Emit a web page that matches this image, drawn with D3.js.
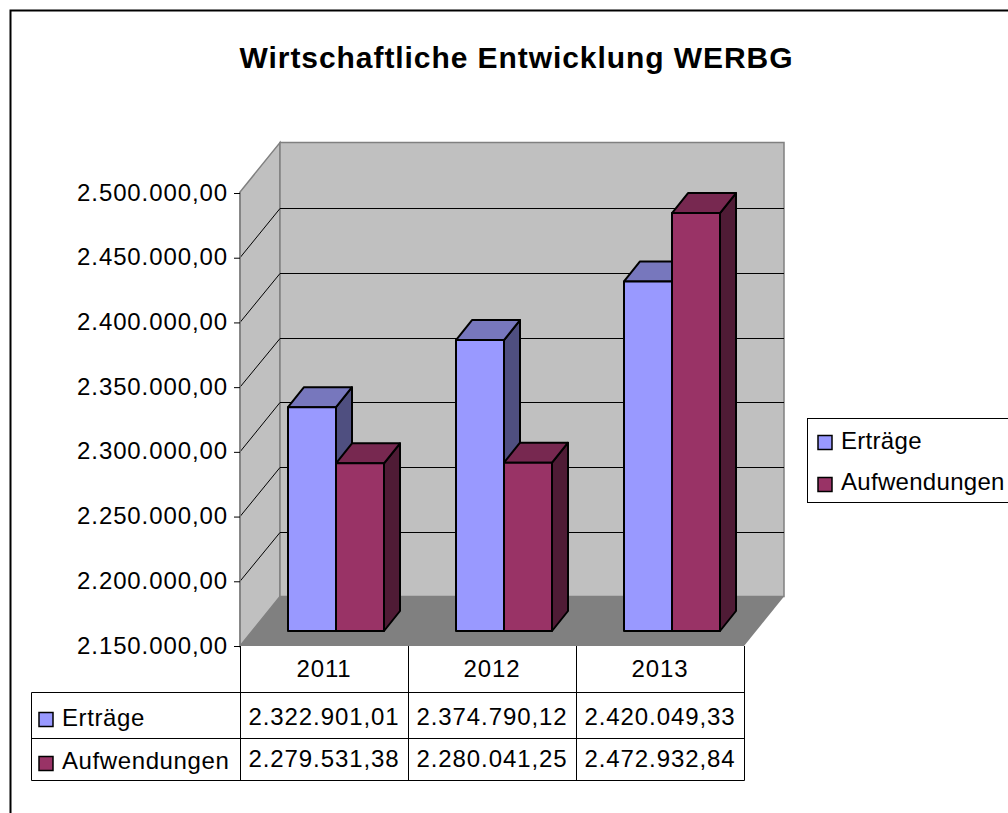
<!DOCTYPE html>
<html><head><meta charset="utf-8">
<script src="https://cdnjs.cloudflare.com/ajax/libs/d3/7.8.5/d3.min.js"></script>
<style>html,body{margin:0;padding:0;background:#fff;overflow:hidden}svg{display:block}text{font-family:"Liberation Sans",Arial,sans-serif;fill:#000}</style>
</head><body><svg id="c" width="1008" height="813"></svg>
<script>
const title = "Wirtschaftliche Entwicklung WERBG";
const years = ["2011","2012","2013"];
const seriesNames = ["Erträge","Aufwendungen"];
const ertraege = [2322901.01,2374790.12,2420049.33];
const aufwendungen = [2279531.38,2280041.25,2472932.84];
const yTicks = [2150000,2200000,2250000,2300000,2350000,2400000,2450000,2500000];
const colors = ["#9999ff","#993366"];
const topColors = ["#7777bd","#772850"];
const sideColors = ["#4f4f80","#4f1b35"];

const fmt = v => d3.format(",.2f")(v).replace(/,/g,"#").replace(".",",").replace(/#/g,".");
const svg = d3.select("#c");
const y = d3.scaleLinear().domain([2150000,2500000]).range([646,193]);
const x = d3.scaleBand().domain(years).range([240,744]);
const pts = a => a.map(p=>p.join(",")).join(" ");
const DX=40, DY=-49.5, L=240, R=744, B=646, T=192;
const FS=24, LS=0.9;

// chart frame: top and left edges only, the rest runs off the page
svg.append("path").attr("d","M10.5,813V10.5H1008").attr("fill","none").attr("stroke","#000").attr("stroke-width",2);

svg.append("text").attr("x",516.5).attr("y",68).attr("text-anchor","middle")
  .attr("font-size",30).attr("font-weight","bold").attr("letter-spacing",0.93).text(title);

// walls and floor
svg.append("polygon").attr("points",pts([[L,B],[L,T],[L+DX,T+DY],[L+DX,B+DY]])).attr("fill","#c0c0c0").attr("stroke","#808080").attr("stroke-width",1.5);
svg.append("polygon").attr("points",pts([[L+DX,B+DY],[L+DX,T+DY],[R+DX,T+DY],[R+DX,B+DY]])).attr("fill","#c0c0c0").attr("stroke","#808080").attr("stroke-width",1.5);

// gridlines
yTicks.slice(1,-1).forEach(t=>{
  const by = Math.round(y(t)+DY)+.5;
  svg.append("path").attr("d",`M${L},${y(t)}L${L+DX},${by}H${R+DX}`).attr("fill","none").attr("stroke","#000").attr("stroke-width",1);
});
svg.append("polygon").attr("points",pts([[L,B],[R,B],[R+DX,B+DY],[L+DX,B+DY]])).attr("fill","#808080");

// axis
svg.append("path").attr("d",`M${L},${T}V${B}`).attr("stroke","#808080").attr("stroke-width",1.5);
const yAxis = svg.append("g").attr("transform",`translate(${L},0)`)
  .call(d3.axisLeft(y).tickValues(yTicks).tickFormat(fmt).tickSize(6).tickPadding(6));
yAxis.select(".domain").remove();
yAxis.selectAll("line").attr("stroke","#000");
yAxis.selectAll("text").attr("font-size",FS).attr("letter-spacing",LS).attr("dy","7px").attr("fill","#000").style("font-family",'"Liberation Sans"');

// bars
const barW = 48, ofx = 12, ofy = -15, bdx = 16, bdy = -20;
const bars = [];
years.forEach((yr,i)=>{ [ertraege,aufwendungen].forEach((s,k)=>bars.push({yr,k,v:s[i]})); });
bars.forEach(b=>{
  const x0 = x(b.yr)+ofx+36+b.k*barW, x1 = x0+barW, yb = y(2150000)+ofy, yt = y(b.v)+ofy;
  const g = svg.append("g").attr("stroke","#000").attr("stroke-width",2).attr("stroke-linejoin","round");
  g.append("polygon").attr("points",pts([[x1,yt],[x1+bdx,yt+bdy],[x1+bdx,yb+bdy],[x1,yb]])).attr("fill",sideColors[b.k]);
  g.append("polygon").attr("points",pts([[x0,yt],[x0+bdx,yt+bdy],[x1+bdx,yt+bdy],[x1,yt]])).attr("fill",topColors[b.k]);
  g.append("rect").attr("x",x0).attr("y",yt).attr("width",barW).attr("height",yb-yt).attr("fill",colors[b.k]);
});

// data table
const rowY = [646,692,738,780], tableLeft = 31;
const tl = svg.append("g").attr("stroke","#000").attr("stroke-width",1).attr("fill","none");
tl.append("path").attr("d",`M${R+.5},${B}V${rowY[3]+.5}H${tableLeft+.5}V${rowY[1]+.5}H${R+.5}M${tableLeft+.5},${rowY[2]+.5}H${R+.5}M${L+.5},${B}V${rowY[3]}`);
years.forEach(yr=>{
  tl.append("path").attr("d",`M${x(yr)+x.bandwidth()+.5},${B}V${rowY[3]}`);
  svg.append("text").attr("x",x(yr)+x.bandwidth()/2).attr("y",677).attr("text-anchor","middle").attr("font-size",FS).attr("letter-spacing",LS).text(yr);
});
[ertraege,aufwendungen].forEach((s,k)=>{
  svg.append("rect").attr("x",39).attr("y",[712.5,756.5][k]).attr("width",14).attr("height",14).attr("fill",colors[k]).attr("stroke","#000").attr("stroke-width",1.5);
  svg.append("text").attr("x",62).attr("y",[726,769][k]).attr("font-size",FS).attr("letter-spacing",0.6).text(seriesNames[k]);
  years.forEach((yr,i)=>svg.append("text").attr("x",x(yr)+x.bandwidth()/2).attr("y",[725,767][k]).attr("text-anchor","middle").attr("font-size",FS).attr("letter-spacing",LS).text(fmt(s[i])));
});

// legend
svg.append("rect").attr("x",807.5).attr("y",418.5).attr("width",210).attr("height",84).attr("fill","#fff").attr("stroke","#000");
seriesNames.forEach((n,k)=>{
  svg.append("rect").attr("x",818).attr("y",[435.5,477.5][k]).attr("width",14).attr("height",14).attr("fill",colors[k]).attr("stroke","#000").attr("stroke-width",1.5);
  svg.append("text").attr("x",841).attr("y",[449,490][k]).attr("font-size",FS).attr("letter-spacing",0.3).text(n);
});
</script></body></html>
